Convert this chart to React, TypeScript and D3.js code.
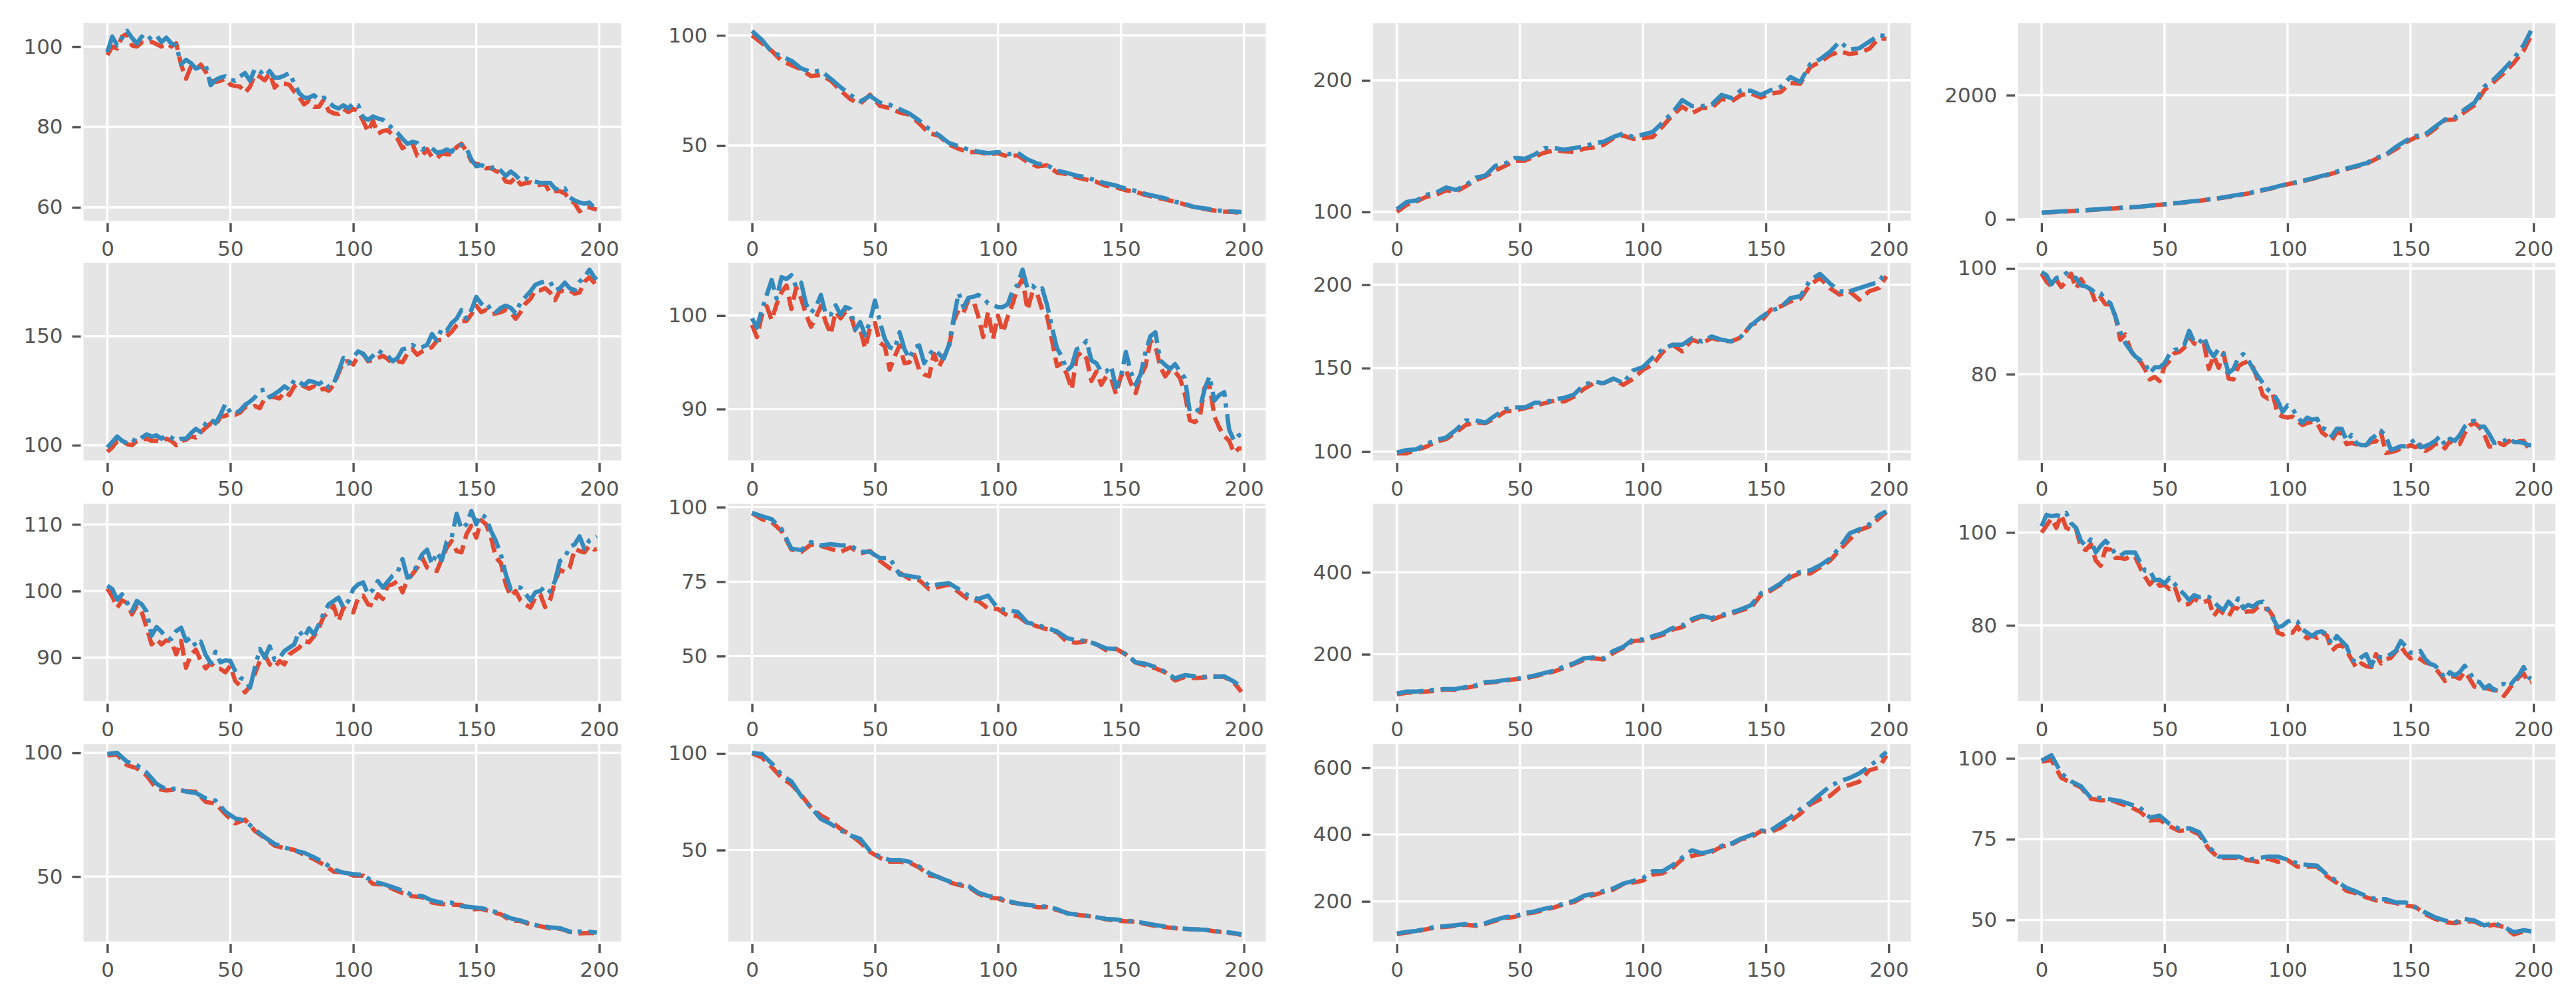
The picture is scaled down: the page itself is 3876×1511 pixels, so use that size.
import React, { useRef, useEffect } from "react";
import * as d3 from "d3";

// indices the series are read at: the smoother panels every 4, the noisy ones every 2
const xCoarse = [...d3.range(0, 200, 4), 199];
const xFine = [...d3.range(0, 200, 2), 199];
const xTicks = [0, 50, 100, 150, 200];

const red00 = [97.9,100,99.5,102.5,103.2,100.3,100,101,100.8,101.2,
  100.6,100,100.8,100,100.8,95.5,92,95,94.4,95.5,
  93.7,91.5,91.2,91.5,92,90.5,90.2,90,88.5,90,
  93,92.5,91.6,93.4,89.8,91,90.8,90.5,88.8,87.4,
  85.6,86.5,85,85,86.8,84,83.4,83.2,84.5,83.7,
  84.5,84,81.5,78.8,81.5,78.3,79,79.2,78,77,
  74.7,75.5,76,72.8,72.7,74.5,72.5,72.2,73.4,73.2,
  73.2,75,75.8,74,71.5,70.8,70.6,69.7,69.8,69,
  68.6,66.4,66.2,67.5,65.7,66,66.2,65.6,65.6,65.8,
  63.6,64,64,63.5,61.9,61,59,60,60,59.6,59.4];
const blue00 = [98.6,102.5,100.3,102.2,103.9,102.2,100.8,102.5,101.4,102.5,
  102.8,101.1,102.2,100.8,100.3,95.6,96.7,95.9,94.5,95,
  95.3,90.4,91.7,92.3,92.6,91.7,91.5,92.6,93.4,91.5,
  94.5,93.9,92.6,93.9,92.3,92.3,92.8,93.4,90.9,88.4,
  87.3,87.3,87.9,86.8,87.3,86.2,85.1,84.6,85.4,84.6,
  86,85.4,82.4,81.8,82.6,82.1,81.8,80.7,79.6,78.5,
  77.1,75.8,76.3,76,74.4,74.9,74.7,73.6,73.8,74.4,
  73.8,75.5,75.5,74.7,71.9,70.2,70.5,70,69.7,70.2,
  69.1,67.8,68.9,68,66.7,67.2,66.7,66.4,66.1,66.1,
  66.1,64.7,64.2,64.7,62.5,61.7,61.2,60.9,61.2,59.8,59.8];
const red01 = [100,96.5,93,88.5,86.5,84.5,81.5,82,79.5,75,71,69,73,68,67,65,64,60,55.5,54.5,50.5,48.5,47,47,46,46.5,45,45.5,42.5,40.5,41,37.7,37,35.5,34.5,33.5,31.7,31,29.7,29,27.5,26.5,25.5,24.5,23.2,22,21.2,20.5,20,19.8,19.2];
const blue01 = [102,98,92.5,90.5,88.5,85,83.4,84,80.3,76.5,73,70,72.5,69.5,68.5,66.5,64.5,61.3,57.5,54.7,51.2,49.7,48.2,47.2,46.5,47,46,46.7,43.7,41.8,41,38.6,37.6,36.3,35.6,34,32.8,31.8,30.4,29.4,28,27,26,24.5,23.5,22,21.5,20.7,20.2,20,19.8];
const red02 = [100,105.5,108,111.5,113,116.5,115.5,119.5,124,127,131.5,135,139,139,142,145,147,146,145.5,148,149,151,156,158,155.5,156,157,165,173.5,180,175,179,179,186,184,189,190,187,190,191,198,197.5,210,214,219,222,220,221,224,232,231.5];
const blue02 = [102,107.6,108.8,113,114.7,118.6,116.7,120.3,126,127.7,135,136.8,141,140.4,143.6,148.5,148.5,147.3,148.5,149.8,152,153.4,157,159.6,157,158.8,160.8,168,175.5,185,180.4,180.4,181.6,189,186.5,192.6,192,189,192.6,195,202.5,198.8,212.3,216,221.6,229.4,223.3,224.5,229.4,234.3,233.6];
const red03 = [105,115,123,132,140,150,160,172,182,190,202,218,234,248,262,280,298,320,338,362,388,415,452,484,522,565,595,632,672,712,760,812,850,892,975,1040,1130,1240,1320,1340,1460,1600,1610,1730,1840,2080,2220,2360,2520,2720,2960];
const blue03 = [107,118,125,134,143,152,164,174,184,192,204,220,238,251,266,284,300,322,342,368,395,418,460,490,530,572,600,640,680,720,770,820,860,905,990,1045,1165,1265,1340,1370,1490,1610,1640,1770,1880,2140,2260,2420,2590,2810,3040];

const red10 = [97,99,102,102,100.5,100,102,102.5,103,102,
  102,101.5,103,102,100,102,102.5,104,103.5,106,
  108,110,109,113,113.5,114.5,114,115,117.5,117,
  118,117,121.5,122,122,121.5,124.5,123,127,128.5,
  127,126,127,125,126,125,127.5,133,138.5,138.5,
  137,141,142,138.5,139,140,141,139.5,137.5,138.5,
  138,142,144,141.5,143,144,145,148,148.5,150,
  152,155,157,157,160,164,161,162,160,160.5,
  161,162,161,158,161,165,167,171,171,172,
  170,166.5,171,170.5,171,169.5,170,175,177,174.5,173];
const blue10 = [99,101.5,104,102,101,102.8,101.6,103.5,105,104,
  104.5,103,104.5,103.5,102,103,103,105.5,107.5,106,
  110,112,110,114,119,115,114.5,116,118.5,120,
  122,125,125.5,122,123.5,125,127,125.5,130,129,
  127.5,129.5,129,128,129.5,126.5,128,134,140,137.5,
  140.5,143,142,139,141,143.5,142,141,138.5,140,
  144,144.5,146,144.5,145,146,151,148,153.5,152.5,
  156,158,162,158,162,168,165,162.5,164,161,
  163,164,163,160.5,165.5,168,170.5,173.5,174.5,175,
  175,171,172,174.5,172,171,175,177,180.5,177,176];
const red11 = [99,97.7,100,101,99.5,101.2,102.5,103.2,100.7,103,
  101.8,100.1,98.8,99.8,101,99.3,98,100.4,99.7,100.4,
  100.1,98.4,98.5,96.5,98.7,99.2,97.1,96.7,94.2,95.6,
  96.8,94.9,95,95.8,94.2,93.7,93.5,95.9,94.5,95.6,
  96.5,99.4,100.6,100.3,101.7,101.6,99.9,97.7,100.4,97.5,
  100,98.2,99.9,101.3,103,103.9,100.6,102.5,102.3,100.6,
  99.9,97.3,94.6,94.9,93.7,92.1,95.6,96.1,95.4,93,
  94,92.6,93.5,93.3,91.6,93.5,94.2,92.8,91.7,93.5,
  94.6,97.3,96.8,94.5,93.5,94.2,94,93.3,91.6,88.8,
  88.6,89,92.3,92.6,89.2,88,87.1,86.6,85.3,85.8,85.8];
const blue11 = [99.7,98.7,100.6,102.2,103.8,101.8,104.1,103.9,104.3,103,
  103.5,101.2,100.3,100.9,102.2,100.1,100.1,101.1,100.1,100.9,
  100.7,98.5,99.3,97.9,99.4,101.6,99.3,97.5,96.6,96.4,
  98.2,96.4,95.4,96.6,96.8,94.9,95.8,96.4,95.9,95.4,
  96.8,99.7,102.4,100.9,101.9,102,102.2,101.9,101.3,101.1,
  100.9,100.9,101.2,102.7,103.3,104.9,102.9,103.2,102.7,102.9,
  101.1,98.7,96.5,95.6,94.1,94.6,96.4,96.6,97.3,95.2,
  94.9,94,94,94.6,92.3,93.5,96.1,94,92.6,93.7,
  96.1,97.8,98.2,95.2,94.7,94.3,94.8,94,93.3,89.7,
  89.7,90,92.1,93.5,90.9,91.5,91.8,87.8,86.6,87.2,87.3];
const red12 = [99,99,101,103,106,107.5,111.5,116,117.5,117,120,124,124.5,126,127.5,129,130.5,130,133,137.5,141,141,143.5,140,143.5,149,152,159.5,164,160,167,165,168,166.5,166,168.5,176,178,185,187,190,191.5,200,204,198,194,196,191,196,198,205];
const blue12 = [99.5,101,101.4,104.6,107,108.5,113,118.7,118.7,117.4,121.6,125.5,126.4,126.4,129.3,129.3,131.3,132.2,134.2,140,142,141,143.8,141,148.6,150.6,156.4,161.2,164,164,168,166,169,167,166,169,175.7,180.5,184.4,186.3,192,193,202.7,206.5,200.8,196,196,197.9,199.8,201.7,208.5];
const red13 = [99,97.5,96.6,97.8,96.5,97.5,99,96.2,98,96.6,
  96,93.5,94.5,93.2,93.2,91,86.5,87.5,84.8,83,
  82.5,81,79,79.5,78.7,81.5,82.5,84,84.2,85,
  87.2,85.8,85.5,85.8,81,83.5,81.2,84,79.2,79,
  81.5,82.1,82.4,81.3,78.8,76,75.4,76.2,72.5,72,
  71.8,72,71.2,70.4,70.8,71,70.8,69,68.3,67.5,
  69,68.8,66.8,67,66.8,66.4,66.6,67.2,67.3,69,
  65.1,65.3,65.5,66,66.2,66.6,66.2,66.6,65.5,66,
  66.8,67,66,67.4,66.6,66.8,68.8,70.3,70.8,70,
  68.6,66.3,66.4,67,66.6,67.4,66.8,67.3,67.4,66,66];
const blue13 = [99.3,98.7,97,98.2,98.4,99.1,98.4,98.2,96.8,96.6,
  96.1,95.3,95.3,94,93.4,90.9,88,85.9,84.6,83.4,
  82.7,82.1,80.2,81.3,81.3,82.1,83.8,84.6,84.8,85.5,
  88.2,86.1,85.9,87.1,84.6,83.4,84.8,83.8,80.2,81,
  83.1,83.8,82.7,81,79.6,78.3,77.1,76.4,75,72.9,
  74.1,73.5,72,70.8,71.8,71.4,71.6,69.9,69.5,68.3,
  69.7,69.7,67.4,68.5,67,66.6,66.6,67.8,68.5,69.3,
  68.3,65.7,66,66.4,66.4,67,67.8,66.2,66.4,66.8,
  67.4,68.3,66.6,67.8,67.4,68.5,70.1,71,71.2,70.1,
  70.1,68.7,67,67.2,67.4,68,67.2,67.2,67,66.6,66.6];

const red20 = [100.4,99.2,97.5,98.6,98.2,96.5,97.8,96.8,94.5,92,
  92.8,92,92.6,92.5,90.5,92.5,88.5,90.5,91.2,89.5,
  88.4,89.2,88.4,88.3,87.8,88.8,86.5,85.8,84.8,85.7,
  87.6,89.5,90.5,89,88.5,89.5,89,90.5,91,91.5,
  92.5,92.3,93.2,94.5,96.2,96.8,97.8,95.5,97.5,97,
  96.8,99,99.3,98,97.8,99.5,98.8,100.8,101,101.5,
  99.8,101.7,102.5,103.5,105,103.5,103.2,103,104.8,106.5,
  107.5,106,105.8,108.5,109.8,108,110.6,110,108,105,
  104.2,101,99.2,100,98.6,98,97.5,99,99.5,97.6,
  98.6,101.5,103.2,102.8,103.5,106.3,106,105.8,106.8,106.2,106.3];
const blue20 = [100.8,100.3,98.7,99.5,98.3,97,98.5,98,96.9,93.3,
  94.6,93.9,93,92.8,94,94.5,92.5,93,91.7,92.4,
  90.4,89.2,90.9,89.3,89.6,89.5,88,87,86.6,85.5,
  88.5,91.3,90,91.7,89.7,90,91,91.5,92,94,
  93,94.4,93.5,95,96.7,98,98.5,99,97.5,98.5,
  100.3,101,101.3,99.5,100.2,101.5,100.5,101.4,102.3,102.8,
  104.8,102,102.3,104,105.5,106.2,104,105.8,104.6,107.4,
  108,111.6,109.3,110,112,110,111.5,111,109,107.5,
  105.5,102.5,100.3,100.6,100.5,99.6,98.6,99.8,100,100.7,
  99.9,101.5,104.5,105,106.6,107,108.2,106.3,107.6,108,108.2];
const red21 = [98,96,95,92,85.8,85,87.5,87,86,85,86.5,84.5,85.3,82,79.5,78,76,75.5,72.5,73.2,74,71.5,69,68.5,66,65.8,63.5,63.5,61,60,59,58,54.8,54.5,55,54,52,52.5,50.5,47.8,46.8,45.9,44.5,41.8,43,42.6,42.8,43.2,43,41,38];
const blue21 = [98.1,97,96,92.7,86.1,85.6,88.3,87.2,87.6,87.2,87.2,85,85,82.9,82.9,77.4,76.9,76.3,73.6,74.1,74.5,72.5,70.3,69.2,70.3,65.9,65.4,64.8,61.2,60.5,59.4,58.3,56.1,55.2,55.2,53.9,52.6,52.3,50.7,47.9,47.4,46.3,44.7,42.5,43.6,43.2,43,43,43.2,41.4,39.7];
const red22 = [102,106,107,109,111,114,113,118,122,130,132,136,139,141,146,152,158,167,176,186,190,187,203,216,232,234,240,247,260,266,282,292,284,293,299,307,314,345,355,370,388,398,397,412,428,455,480,503,512,532,547];
const blue22 = [104,109,109,111,114,115,115,120,124,132,133,137,140,143,148,154,160,170,178,190,192,190,208,218,236,236,244,251,264,270,286,294,288,296,302,310,320,349,358,373,393,401,405,417,433,461,495,505,517,540,549];
const red23 = [100,101.5,103,101,103.8,101,100.5,100.8,96.8,96.2,
  97.5,94,92.8,96.5,96.3,94.5,94.5,94.3,94.8,94.8,
  92.5,90.5,88.8,90,88.5,88.7,87.8,88.5,85.4,84.5,
  84.6,85.8,85,85,85.4,82,83.5,82.5,81.8,83.8,
  83.6,82.8,83,83,84,83.5,83.6,82,78.4,78,
  78.5,78.4,79.8,78,77.2,77.8,77.3,78.4,77.8,74.5,
  75.5,75.8,74.5,72.7,70.8,71.8,71.2,71,73.8,71.8,
  72.7,73,74.3,75.5,74,72.9,73.3,72.7,72,71.7,
  70.8,69.5,68,69,69,68.5,70,68.5,66.8,66.5,
  66.5,66.3,66,66,64.8,66.2,67.6,68.8,69.6,67.6,67.8];
const blue23 = [101.3,103.8,103.5,103.7,103.5,104.2,102,101,98.2,97.1,
  98.5,95.7,97.1,98.2,97.1,95.3,95,95.7,95.7,95.7,
  93.6,91.8,91.8,89.7,89.8,89,90.2,89,87.6,86.7,
  85.4,86.5,86.1,86.3,86.1,85.1,84,83.3,85.1,84,
  85.8,83.7,84.4,84,84.9,85.1,83.3,81.6,79.6,79.9,
  80.8,81.2,80.8,79.1,78.4,77.7,78.5,78.7,78,75.9,
  77.7,76.6,75.5,72.7,72,73.1,73.8,71.3,73.4,73.1,
  73.1,73.8,74.5,76.6,75.5,74.1,74.1,74.5,72.7,71.7,
  71.3,70.2,68.5,69.9,69.2,69.9,71.3,69.9,68.1,67.8,
  66.4,67.1,66,67.1,67.4,66.7,68.1,69.2,71,68.8,68.5];

const red30 = [99,99.3,95,93.8,90.8,85.5,84.8,85.2,84.5,84.2,80.2,79.5,75.2,71.5,73,68.4,65.6,62.5,61.4,60.8,58.8,57,54.8,52,51.7,50.4,50.4,47,46.8,45,43.3,42,41.6,39.5,38.8,38.6,38.5,36.7,36.9,35.8,34.7,32.2,32,30.6,29.9,29,28.9,27.6,27,27.2,27];
const blue30 = [99.6,100,96.4,95,92,87.5,85.2,85.6,84.3,83.8,81.6,80.7,76.2,73.5,72.6,69,65.9,63.2,61.8,60.5,59.6,57.8,55.6,52.9,51.5,51,50.6,47.9,47,45.7,44.3,42.5,42.1,40.3,39.4,39.4,38,37.6,37.2,36.3,34.9,33.1,32.2,30.9,30,29.5,29.1,27.7,27.7,27.7,27.3];
const red31 = [100,98,93,87.5,84,78.5,72,68,65,61,58,54,49,46,44,44,43.5,41,37,36,33.5,32,31,27.5,25.5,25,23,22.5,21.5,20.5,20.5,19,17.5,16.5,16,15.3,14.2,13.5,13.2,13,11.8,10.8,10.2,9.6,9.2,9,8.9,8,7.5,6.9,6.1];
const blue31 = [100.3,99.7,94.9,89,85.6,78,72,66.1,63.6,60.2,57.6,55.9,49.5,46.6,44.9,44.9,44,41.5,38.1,35.9,33.9,32.5,31.4,28,26.3,25.4,23.7,22.4,21.7,21.2,20.7,19.5,17.3,16.6,16.1,15.3,14.4,14.1,13.6,13,12.2,11.2,10.5,9.8,9.3,9,8.8,8.1,7.6,7.1,6.4];
const red32 = [102,107,110,117,122,124,127,130,127,133,142,150,154,163,167,175,182,192,198,214,219,228,235,252,256,262,280,284,300,326,336,342,348,364,370,386,392,410,408,420,440,462,490,505,515,540,548,558,592,600,636];
const blue32 = [104,109,112,119,124,126,129,132,129,135,145,153,156,165,170,178,184,194,202,217,223,231,239,253,261,270,290,290,308,331,353,344,351,366,373,388,398,412,412,432,451,476,495,520,544,559,569,583,603,627,647];
const red33 = [99,99.5,94,92.5,91,87.5,87,87.2,86,85,83.5,80.8,81,79,77.5,78,76.5,72,69.2,69.2,69.2,68.5,68,69,68,68.5,66.5,66.5,66.5,63.5,61.5,59,58.2,57,56,55.8,55.2,54.5,54,51.8,50.3,49.3,49,49.6,49.5,48,48.5,47.8,45.5,46.4,46.5];
const blue33 = [99.3,101,95.4,92.9,91.4,87.8,87.8,87.3,86.8,85.8,84.8,81.7,82.3,79.7,78.2,78.4,77.2,72.6,69.6,69.6,69.6,68.6,69.1,69.6,69.6,68.6,67.5,67,66.8,64,62,59.9,58.7,57.4,56.4,56.4,55.4,55.4,53.9,52.3,50.8,49.8,49.3,50.3,49.8,48.3,49,47.8,46.2,46.8,46.5];

const redSeries = [red00, red01, red02, red03, red10, red11, red12, red13, red20, red21, red22, red23, red30, red31, red32, red33];
const blueSeries = [blue00, blue01, blue02, blue03, blue10, blue11, blue12, blue13, blue20, blue21, blue22, blue23, blue30, blue31, blue32, blue33];

const yLimits = [
  [56.7, 105.8], [15.9, 105.5], [93.4, 243.4], [-21, 3160],
  [93, 183.5], [84.5, 105.6], [94.7, 212.9], [63.7, 101],
  [83.5, 113.1], [34.9, 101.2], [85.7, 567.8], [63.7, 106.2],
  [23.7, 103.5], [2.7, 104.8], [80, 670], [43.3, 104.4],
];
const yTicks = [
  [60, 80, 100], [50, 100], [100, 200], [0, 2000],
  [100, 150], [90, 100], [100, 150, 200], [80, 100],
  [90, 100, 110], [50, 75, 100], [200, 400], [80, 100],
  [50, 100], [50, 100], [200, 400, 600], [50, 75, 100],
];

const W = 3876;
const H = 1511;
const colLefts = [125.6, 1095.6, 2066, 3036];
const rowTops = [35, 396, 758, 1120];
const panelW = 809;
const panelH = 297;

const App: React.FC = () => {
  const svgRef = useRef<SVGSVGElement | null>(null);

  useEffect(() => {
    const svg = d3.select(svgRef.current);
    svg.selectAll("*").remove();

    redSeries.forEach((red, i) => {
      const left = colLefts[i % 4];
      const top = rowTops[Math.floor(i / 4)];
      const blue = blueSeries[i];

      const x = d3.scaleLinear().domain([-9.7, 208.9]).range([left, left + panelW]);
      const y = d3.scaleLinear().domain(yLimits[i]).range([top + panelH, top]);

      const g = svg.append("g");

      g.append("rect")
        .attr("x", left)
        .attr("y", top)
        .attr("width", panelW)
        .attr("height", panelH)
        .attr("fill", "#E5E5E5");

      // grid
      g.selectAll("line.vgrid")
        .data(xTicks)
        .enter()
        .append("line")
        .attr("class", "vgrid")
        .attr("x1", d => x(d))
        .attr("x2", d => x(d))
        .attr("y1", top)
        .attr("y2", top + panelH)
        .attr("stroke", "white")
        .attr("stroke-width", 3.4);

      g.selectAll("line.hgrid")
        .data(yTicks[i])
        .enter()
        .append("line")
        .attr("class", "hgrid")
        .attr("x1", left)
        .attr("x2", left + panelW)
        .attr("y1", d => y(d))
        .attr("y2", d => y(d))
        .attr("stroke", "white")
        .attr("stroke-width", 3.4);

      // axes
      const xAxis = g.append("g")
        .attr("transform", `translate(0,${top + panelH + 4})`)
        .call(d3.axisBottom(x).tickValues(xTicks).tickSize(13).tickPadding(14));
      const yAxis = g.append("g")
        .attr("transform", `translate(${left - 4},0)`)
        .call(d3.axisLeft(y).tickValues(yTicks[i]).tickFormat(d3.format("d")).tickSize(13).tickPadding(14));

      [xAxis, yAxis].forEach(a => {
        a.select(".domain").remove();
        a.attr("color", "#555555")
          .attr("font-family", "DejaVu Sans")
          .attr("font-size", 31);
        a.selectAll("line").attr("stroke-width", 3.4);
      });

      const xs = red.length === xFine.length ? xFine : xCoarse;
      const line = d3
        .line<number>()
        .x((_, k) => x(xs[k]))
        .y(d => y(d));

      g.append("path")
        .datum(red)
        .attr("fill", "none")
        .attr("stroke", "#E24A33")
        .attr("stroke-width", 6.5)
        .attr("stroke-dasharray", "23.1 10")
        .attr("stroke-linejoin", "round")
        .attr("d", line);

      g.append("path")
        .datum(blue)
        .attr("fill", "none")
        .attr("stroke", "#348ABD")
        .attr("stroke-width", 6.5)
        .attr("stroke-dasharray", "40 10 6.25 10")
        .attr("stroke-linejoin", "round")
        .attr("d", line);
    });
  }, []);

  return (
    <svg
      ref={svgRef}
      width={W}
      height={H}
      viewBox={`0 0 ${W} ${H}`}
      style={{ position: "absolute", left: 0, top: 0, background: "white" }}
    />
  );
};

export default App;
